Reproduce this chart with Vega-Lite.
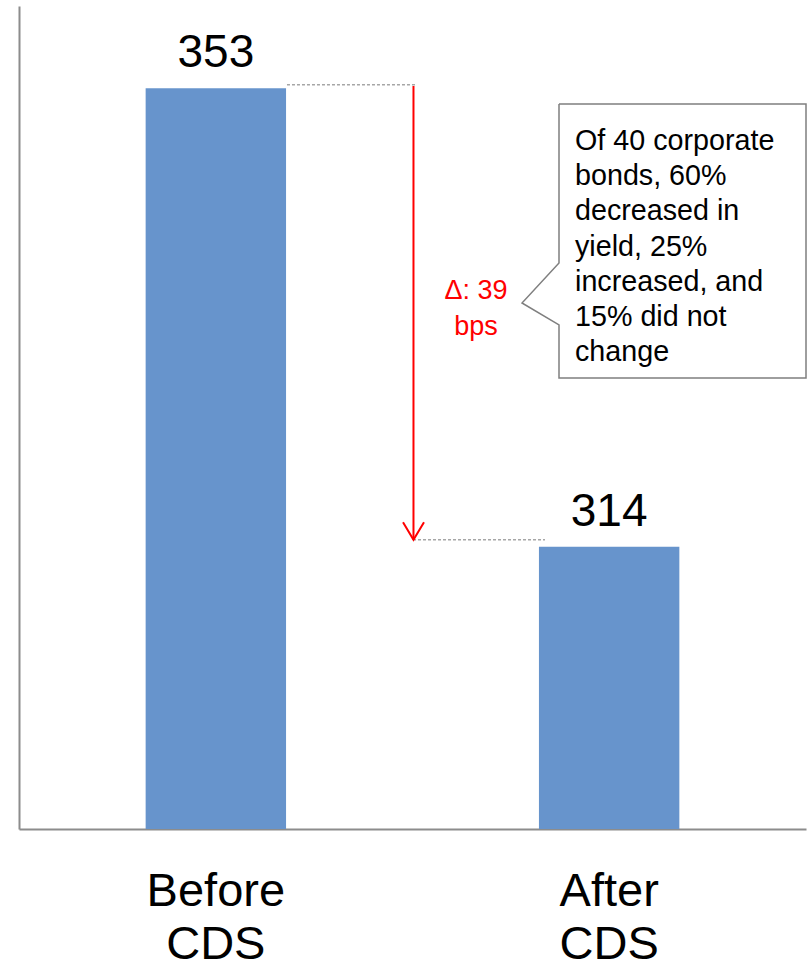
{
  "$schema": "https://vega.github.io/schema/vega-lite/v6.json",
  "width": 787,
  "height": 823,
  "autosize": {"type": "none"},
  "padding": {"left": 19, "top": 6, "right": 5, "bottom": 130},
  "background": "white",
  "config": {
    "view": {"stroke": null},
    "font": "Liberation Sans",
    "axisY": {"domain": true, "domainColor": "#8c8c8c", "domainWidth": 2, "ticks": false, "labels": false, "grid": false}
  },
  "datasets": {
    "bars": [
      {"period": "Before CDS", "yield": 353},
      {"period": "After CDS", "yield": 314}
    ],
    "guides": [
      {"x": 0.681, "x2": 1.0114, "y": 353.31},
      {"x": 1.0013, "x2": 1.3367, "y": 314.6}
    ],
    "arrow": [{"x": 1.0025, "y": 353.2, "y2": 314.6}],
    "head": [
      {"x": 0.9759, "y": 316.1, "k": 0},
      {"x": 1.0025, "y": 314.6, "k": 1},
      {"x": 1.0292, "y": 316.1, "k": 2}
    ],
    "callout": [
      {"x": 1.3723, "y": 351.66, "k": 0},
      {"x": 2.0, "y": 351.66, "k": 1},
      {"x": 2.0, "y": 328.36, "k": 2},
      {"x": 1.3723, "y": 328.36, "k": 3},
      {"x": 1.3723, "y": 332.87, "k": 4},
      {"x": 1.2783, "y": 334.74, "k": 5},
      {"x": 1.3723, "y": 338.14, "k": 6},
      {"x": 1.3723, "y": 351.66, "k": 7}
    ],
    "delta": [{"x": 1.1614, "y": 335.08, "text": "Δ: 39\nbps"}],
    "note": [{"x": 1.413, "y": 347.75, "text": "Of 40 corporate\nbonds, 60%\ndecreased in\nyield, 25%\nincreased, and\n15% did not\nchange"}]
  },
  "resolve": {"scale": {"x": "independent"}},
  "layer": [
    {
      "data": {"name": "bars"},
      "encoding": {
        "x": {
          "field": "period",
          "type": "nominal",
          "sort": ["Before CDS", "After CDS"],
          "scale": {"paddingInner": 0.643, "paddingOuter": 0.322},
          "axis": {
            "title": null,
            "domain": true,
            "domainColor": "#8c8c8c",
            "domainWidth": 2,
            "ticks": false,
            "labelAngle": 0,
            "labelFontSize": 47,
            "labelLineHeight": 53,
            "labelPadding": 39,
            "labelColor": "#000000",
            "labelOverlap": false,
            "labelExpr": "split(datum.label, ' ')"
          }
        }
      },
      "layer": [
        {
          "mark": {"type": "bar", "color": "#6794cc"},
          "encoding": {
            "y": {"field": "yield", "type": "quantitative", "title": null, "scale": {"domain": [290, 360], "zero": false, "nice": false}},
            "y2": {"datum": 290}
          }
        },
        {
          "mark": {"type": "text", "fontSize": 46, "baseline": "alphabetic", "align": "center", "dy": -21, "color": "#000000"},
          "encoding": {
            "y": {"field": "yield", "type": "quantitative", "title": null},
            "text": {"field": "yield", "type": "quantitative"}
          }
        }
      ]
    },
    {
      "layer": [
        {
          "data": {"name": "guides"},
          "mark": {"type": "rule", "color": "#a6a6a6", "strokeWidth": 1.5, "strokeDash": [3, 2]},
          "encoding": {
            "x": {"field": "x", "type": "quantitative", "axis": null, "scale": {"domain": [0, 2], "nice": false, "zero": false}},
            "x2": {"field": "x2"},
            "y": {"field": "y", "type": "quantitative", "title": null}
          }
        },
        {
          "data": {"name": "arrow"},
          "mark": {"type": "rule", "color": "#ff0000", "strokeWidth": 2},
          "encoding": {
            "x": {"field": "x", "type": "quantitative", "axis": null, "scale": {"domain": [0, 2], "nice": false, "zero": false}},
            "y": {"field": "y", "type": "quantitative", "title": null},
            "y2": {"field": "y2"}
          }
        },
        {
          "data": {"name": "head"},
          "mark": {"type": "line", "color": "#ff0000", "strokeWidth": 2},
          "encoding": {
            "x": {"field": "x", "type": "quantitative", "axis": null, "scale": {"domain": [0, 2], "nice": false, "zero": false}},
            "y": {"field": "y", "type": "quantitative", "title": null},
            "order": {"field": "k"}
          }
        },
        {
          "data": {"name": "callout"},
          "mark": {"type": "line", "color": "#7f7f7f", "strokeWidth": 1.5, "strokeJoin": "miter"},
          "encoding": {
            "x": {"field": "x", "type": "quantitative", "axis": null, "scale": {"domain": [0, 2], "nice": false, "zero": false}},
            "y": {"field": "y", "type": "quantitative", "title": null},
            "order": {"field": "k"}
          }
        },
        {
          "data": {"name": "delta"},
          "mark": {"type": "text", "color": "#ff0000", "fontSize": 27, "lineHeight": 36, "align": "center", "baseline": "alphabetic", "lineBreak": "\n"},
          "encoding": {
            "x": {"field": "x", "type": "quantitative", "axis": null, "scale": {"domain": [0, 2], "nice": false, "zero": false}},
            "y": {"field": "y", "type": "quantitative", "title": null},
            "text": {"field": "text"}
          }
        },
        {
          "data": {"name": "note"},
          "mark": {"type": "text", "color": "#000000", "fontSize": 28.7, "lineHeight": 35.2, "align": "left", "baseline": "alphabetic", "lineBreak": "\n"},
          "encoding": {
            "x": {"field": "x", "type": "quantitative", "axis": null, "scale": {"domain": [0, 2], "nice": false, "zero": false}},
            "y": {"field": "y", "type": "quantitative", "title": null},
            "text": {"field": "text"}
          }
        }
      ]
    }
  ]
}
